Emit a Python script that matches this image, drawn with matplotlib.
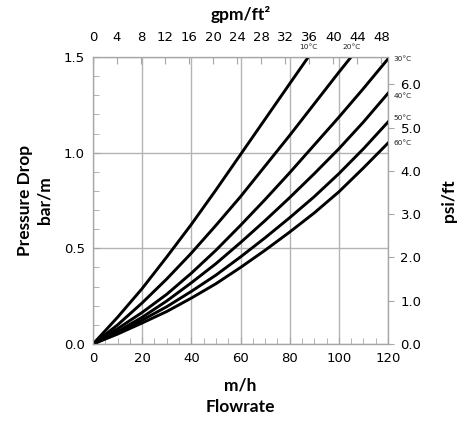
import numpy as np
import matplotlib
matplotlib.use("Agg")
from matplotlib import pyplot as plt
from matplotlib.ticker import MultipleLocator, FormatStrFormatter

# flowrate (m/h) vs pressure drop (bar/m), one series per water temperature
flow_10 = [0, 10, 20, 30, 40, 50, 60, 70, 80, 87.6]
drop_10 = [0, 0.14, 0.29, 0.455, 0.625, 0.805, 0.99, 1.175, 1.36, 1.50]
flow_20 = [0, 10, 20, 30, 40, 50, 60, 70, 80, 90, 100, 105]
drop_20 = [0, 0.10, 0.215, 0.34, 0.475, 0.62, 0.77, 0.93, 1.09, 1.255, 1.42, 1.50]
flow_30 = [0, 10, 20, 30, 40, 50, 60, 70, 80, 90, 100, 110, 120]
drop_30 = [0, 0.08, 0.165, 0.26, 0.37, 0.49, 0.62, 0.755, 0.895, 1.04, 1.185, 1.335, 1.49]
flow_40 = [0, 10, 20, 30, 40, 50, 60, 70, 80, 90, 100, 110, 120]
drop_40 = [0, 0.065, 0.14, 0.225, 0.32, 0.42, 0.53, 0.645, 0.765, 0.89, 1.02, 1.16, 1.31]
flow_50 = [0, 10, 20, 30, 40, 50, 60, 70, 80, 90, 100, 110, 120]
drop_50 = [0, 0.058, 0.125, 0.195, 0.275, 0.36, 0.455, 0.555, 0.66, 0.77, 0.89, 1.02, 1.16]
flow_60 = [0, 10, 20, 30, 40, 50, 60, 70, 80, 90, 100, 110, 120]
drop_60 = [0, 0.052, 0.11, 0.17, 0.24, 0.315, 0.40, 0.49, 0.585, 0.685, 0.795, 0.92, 1.05]

temp_labels = ["10°C", "20°C", "30°C", "40°C", "50°C", "60°C"]
gpm_ticks = [0, 4, 8, 12, 16, 20, 24, 28, 32, 36, 40, 44, 48]
psi_ticks = [0, 1, 2, 3, 4, 5, 6]

M_H_TO_GPM_FT2 = 0.40903
BAR_M_TO_PSI_FT = 4.4208

label_font = dict(family="Lato", weight="bold", size=12.5)
grey = "#a6a6a6"

fig = plt.figure(figsize=(4.66, 4.22), dpi=100)
ax = fig.add_axes([0.1996, 0.1848, 0.6330, 0.6802])

series = [
    (flow_10, drop_10),
    (flow_20, drop_20),
    (flow_30, drop_30),
    (flow_40, drop_40),
    (flow_50, drop_50),
    (flow_60, drop_60),
]
# small vertical nudges so the right-hand labels clear the psi tick labels
label_dy = [0, 0, 0, -2, 3, 0]
for (x, y), name, dy in zip(series, temp_labels, label_dy):
    ax.plot(x, y, color="black", lw=2.1, solid_joinstyle="round", zorder=3)
    if x[-1] < 119:
        # curve leaves through the top edge
        ax.annotate(name, (x[-1], 1.5), xytext=(0, 5), textcoords="offset points",
                    ha="center", va="bottom", fontsize=5.3, color="#222222")
    else:
        ax.annotate(name, (120, y[-1]), xytext=(4, dy), textcoords="offset points",
                    ha="left", va="center", fontsize=5.3, color="#222222",
                    annotation_clip=False)

ax.set_xlim(0, 120)
ax.set_ylim(0, 1.5)
ax.xaxis.set_major_locator(MultipleLocator(20))
ax.xaxis.set_minor_locator(MultipleLocator(5))
ax.yaxis.set_major_locator(MultipleLocator(0.5))
ax.yaxis.set_minor_locator(MultipleLocator(0.1))
ax.yaxis.set_major_formatter(FormatStrFormatter("%.1f"))
ax.grid(True, which="major", color="#b4b4b4", lw=1.0)
ax.tick_params(which="both", direction="in", color=grey, labelsize=9.5, pad=6)
ax.tick_params(which="major", length=5)
ax.tick_params(which="minor", length=4)
for s in ax.spines.values():
    s.set_color(grey)

ax.set_xlabel("m/h\nFlowrate", labelpad=9, linespacing=1.4, **label_font)
ax.set_ylabel("Pressure Drop\nbar/m", labelpad=8, linespacing=1.3, **label_font)

# top axis in gpm/ft2
top = ax.twiny()
top.set_xlim(0, 120 * M_H_TO_GPM_FT2)
top.set_xticks(gpm_ticks)
top.tick_params(direction="in", color=grey, length=5, labelsize=9.5, pad=9)
top.set_xlabel("gpm/ft²", labelpad=8, **label_font)

# right axis in psi/ft
right = ax.twinx()
right.set_ylim(0, 1.5 * BAR_M_TO_PSI_FT)
right.set_yticks(psi_ticks)
right.yaxis.set_major_formatter(FormatStrFormatter("%.1f"))
right.tick_params(direction="out", color=grey, length=4, labelsize=9.5, pad=5)
right.set_ylabel("psi/ft", labelpad=14, **label_font)
for a in (top, right):
    for s in a.spines.values():
        s.set_color(grey)

fig.savefig("out.png", dpi=100)
